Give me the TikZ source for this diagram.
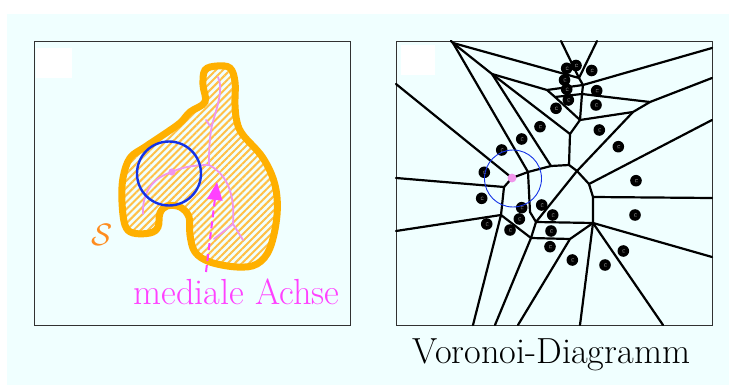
\RequirePackage{fix-cm}
\documentclass[tikz,border=0pt]{standalone}
\usetikzlibrary{arrows.meta,patterns.meta}
\definecolor{bgazure}{RGB}{240,255,255}
\definecolor{shapeorange}{RGB}{255,176,0}
\definecolor{hatchorange}{RGB}{255,192,70}
\definecolor{sorange}{RGB}{255,140,30}
\definecolor{axispink}{RGB}{240,150,235}
\definecolor{circblue}{RGB}{20,50,230}
\definecolor{arrowmag}{RGB}{255,64,255}
\definecolor{framegray}{RGB}{50,50,50}
\begin{document}
\begin{tikzpicture}[x=1pt,y=-1pt,
  panel/.style={draw=framegray,line width=0.9pt},
  blank/.style={fill=white},
  shapeline/.style={draw=shapeorange,line width=7pt,
    pattern={Lines[angle=45,distance=5pt,line width=2pt]},pattern color=hatchorange},
  medial/.style={draw=axispink,line width=1.8pt,line cap=round,line join=round},
  vedge/.style={draw=black,line width=2.2pt,line cap=round,line join=round},
  site/.style={fill=black},
  sitemark/.style={draw=black!55,line width=0.5pt},
  bigtext/.style={font=\fontsize{36.3}{44}\selectfont,inner sep=0pt,anchor=base},
  slabelstyle/.style={font=\fontsize{31}{38}\selectfont,inner sep=0pt,anchor=base},
  magarrow/.style={draw=arrowmag,line width=2pt,dash pattern=on 7pt off 4pt,
    -{Triangle[length=18pt,width=15pt]}}
]
\useasboundingbox (0,0) rectangle (729,385);
\fill[bgazure] (7,14) rectangle (729,385);

% ---------------- left panel ----------------
\draw[panel] (34,41) rectangle (350,325);
\fill[blank] (36,48) rectangle (72,78);

\path[shapeline] plot[smooth cycle,tension=0.6] coordinates {
 (217,66) (230,68) (235,82) (235,105) (237,122) (243,135) (263,158) (275,185)
 (277,215) (270,248) (257,264) (237,267) (210,262) (195,252) (190,235)
 (189,217) (180,207) (167,206) (160,213) (158,227) (150,233) (133,233)
 (125,225) (122,202) (123,178) (130,158) (145,147) (163,135) (180,123)
 (190,112) (205,102) (203,85) (205,70)};

% medial axis
\coordinate (mj) at (209,165);
\draw[medial] (218,77) .. controls (224,90) and (216,110) .. (212,125)
  .. controls (209,140) and (209,155) .. (mj);
\draw[medial] (210,126) -- (206,120);
\draw[medial] (mj) .. controls (195,165) and (182,167) .. (172,172)
  .. controls (155,177) and (142,190) .. (143,214);
\draw[medial] (mj) .. controls (228,175) and (235,195) .. (233,224);
\draw[medial] (233,224) -- (243,240);
\draw[medial] (233,224) -- (214,239);
\fill[axispink] (172,172) circle (3.6);
\node[draw=circblue,line width=2.4pt,circle,minimum size=64pt,inner sep=0pt] (maxcirc) at (169,173.5) {};

% arrow + labels
\coordinate (arrtail) at (206,272);
\coordinate (arrtip) at (217,182);
\draw[magarrow] (arrtail) -- (arrtip);
\node[bigtext,text=arrowmag] (achse) at (236.5,305) {mediale Achse};
\node[slabelstyle,text=sorange] (slabel) at (102,245) {$\mathcal{S}$};

% ---------------- right panel ----------------
\draw[panel] (396,41) rectangle (712,325);
\fill[blank] (401,45) rectangle (435,75);

\coordinate (A) at (453,43);
\coordinate (B) at (492,74);
\coordinate (C) at (547,90);
\coordinate (D) at (555,97);
\coordinate (E1) at (579,78);
\coordinate (E2) at (583,85);
\coordinate (E3) at (582,94);
\coordinate (G) at (580,120);
\coordinate (H) at (570,134);
\coordinate (I) at (569,165);
\coordinate (J) at (551,166);
\coordinate (K) at (528,172);
\coordinate (P) at (512,178);
\coordinate (L) at (504,187);
\coordinate (M) at (577,171);
\coordinate (N) at (589,184);
\coordinate (O) at (593,197);
\coordinate (R) at (593,223);
\coordinate (S) at (570,239);
\coordinate (Q) at (536,222);
\coordinate (U) at (531,238);
\coordinate (V) at (530,212);
\coordinate (W) at (501,215);
\coordinate (X) at (650,102);
\coordinate (T) at (633,112);
% border ends
\coordinate (bA) at (451,41);
\coordinate (bE1a) at (561,41);
\coordinate (bE1b) at (597,41);
\coordinate (bE2) at (712,48);
\coordinate (bX) at (712,78);
\coordinate (bN) at (712,120);
\coordinate (bO) at (712,198);
\coordinate (bR) at (712,257);
\coordinate (bR2) at (663,325);
\coordinate (bR3) at (580,325);
\coordinate (bS) at (518,325);
\coordinate (bU) at (495,325);
\coordinate (bW) at (473,325);
\coordinate (bW2) at (396,231);
\coordinate (bL) at (396,178);
\coordinate (bP) at (396,84);

\draw[vedge] (bA) -- (A) -- (B);
\draw[vedge] (A) -- (E1);
\draw[vedge] (A) -- (K);
\draw[vedge] (bE1a) -- (E1) -- (bE1b);
\draw[vedge] (E1) -- (E2) -- (E3) -- (G);
\draw[vedge] (E2) -- (bE2);
\draw[vedge] (B) -- (C) -- (E2);
\draw[vedge] (C) -- (D) -- (G);
\draw[vedge] (D) -- (E3) -- (X) -- (bX);
\draw[vedge] (X) -- (T) -- (G);
\draw[vedge] (B) -- (H);
\draw[vedge] (B) -- (J);
\draw[vedge] (G) -- (H) -- (I);
\draw[vedge] (P) -- (K) -- (J) -- (I) -- (M);
\draw[vedge] (T) -- (M) -- (Q);
\draw[vedge] (M) -- (N) -- (O) -- (R);
\draw[vedge] (N) -- (bN);
\draw[vedge] (O) -- (bO);
\draw[vedge] (R) -- (bR);
\draw[vedge] (R) -- (bR2);
\draw[vedge] (R) -- (bR3);
\draw[vedge] (R) -- (S) -- (bS);
\draw[vedge] (S) -- (U);
\draw[vedge] (Q) -- (R);
\draw[vedge] (K) -- (V) -- (Q) -- (U) -- (bU);
\draw[vedge] (U) -- (W) -- (bW);
\draw[vedge] (W) -- (bW2);
\draw[vedge] (W) -- (L) -- (bL);
\draw[vedge] (L) -- (P) -- (bP);

% sites
\foreach \x/\y in {566.7/68.3, 576/65.5, 591.7/70.5, 564.5/80, 566.7/89.3, 596.7/90.7,
  568.3/100, 556/108.3, 596/105, 540/126.7, 599.3/130, 521.7/139, 618.3/146.7,
  501.7/150, 484.3/172.3, 636/180.7, 481.7/198.3, 521.7/207.7, 541.7/205,
  552.7/215, 519.3/219, 635/215, 486.7/224, 510/230, 551/231, 550/246.7,
  623.3/251, 572.3/260, 605/265}
{
  \fill[site] (\x,\y) circle (5.8);
  \draw[sitemark] (\x+1.8,\y+1.1) arc[start angle=40,end angle=320,radius=1.6];
}

\node[draw=circblue,line width=0.9pt,circle,minimum size=57pt,inner sep=0pt] (vcirc) at (513,178.5) {};
\fill[axispink] (P) circle (4.4);

\node[bigtext,text=black] (vlabel) at (551.5,363) {Voronoi-Diagramm};
\end{tikzpicture}
\end{document}
